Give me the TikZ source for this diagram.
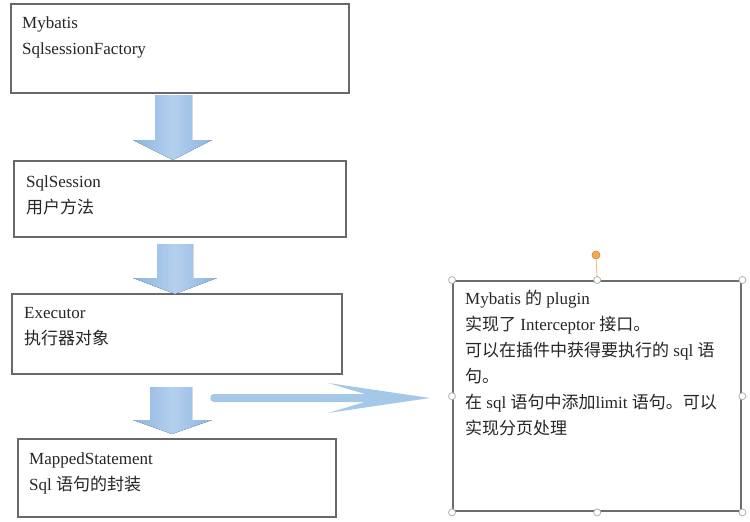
\documentclass[tikz,border=0pt]{standalone}
\usepackage{fontspec}
\setmainfont{Liberation Serif}
\newfontfamily\cjk{Noto Sans CJK SC}
\definecolor{boxgray}{RGB}{105,105,105}
\definecolor{arrowblue}{RGB}{140,180,225}
\definecolor{arrowlight}{RGB}{180,208,238}
\definecolor{sidefill}{RGB}{165,200,233}
\definecolor{rotorange}{RGB}{245,170,80}
\begin{document}
\begin{tikzpicture}[x=1pt,y=-1pt,
    box/.style={draw=boxgray, line width=1.6pt, anchor=north west, inner sep=0pt},
    txt/.style={anchor=north west, inner sep=0pt, align=left, text=black!85,
        font=\fontsize{17}{26}\selectfont},
    handle/.style={circle, draw=gray!60, fill=white, line width=0.8pt,
        inner sep=0pt, minimum size=7pt},
    downarrow/.style={left color=arrowblue, right color=arrowblue, middle color=arrowlight},
    sidearrow/.style={fill=sidefill}]
    \useasboundingbox[fill=white] (0,0) rectangle (750,522);

    % left column
    \node[box, minimum width=338, minimum height=89] (factory) at (10,3) {};
    \node[txt] (factorytext) at (22,10) {\strut Mybatis\\SqlsessionFactory};
    \node[box, minimum width=332, minimum height=76] (session) at (13,160) {};
    \node[txt] (sessiontext) at (26,169) {\strut SqlSession\\{\cjk 用户方法}};
    \node[box, minimum width=330, minimum height=80] (executor) at (11,293) {};
    \node[txt] (executortext) at (24,300) {\strut Executor\\{\cjk 执行器对象}};
    \node[box, minimum width=318, minimum height=78] (mapped) at (17,438) {};
    \node[txt] (mappedtext) at (29,446) {\strut MappedStatement\\Sql {\cjk 语句的封装}};

    % block arrows
    \fill[downarrow] (155,95) -- (192,95) -- (192,140) -- (212,140) -- (173,160)
        -- (133,140) -- (155,140) -- cycle;
    \fill[downarrow] (157,244) -- (193,244) -- (193,278) -- (217,278) -- (175,294)
        -- (133,278) -- (157,278) -- cycle;
    \fill[downarrow] (150,387) -- (192,387) -- (192,420) -- (212,420) -- (172,434)
        -- (133,420) -- (150,420) -- cycle;
    \fill[sidearrow] (214,394) -- (365,394) -- (328,383) -- (430,398) -- (328,413)
        -- (365,402) -- (214,402) .. controls (209,402) and (209,394) .. (214,394) -- cycle;

    % plugin box
    \node[box, line width=2.4pt, draw=gray!85!black, minimum width=288, minimum height=230] (plugin) at (452,280) {};
    \node[txt] (plugintext) at (465,286) {\strut Mybatis {\cjk 的} plugin\\
        {\cjk 实现了} Interceptor {\cjk 接口。}\\
        {\cjk 可以在插件中获得要执行的} sql {\cjk 语}\\
        {\cjk 句。}\\
        {\cjk 在} sql {\cjk 语句中添加}limit {\cjk 语句。可以}\\
        {\cjk 实现分页处理}};

    % selection handles
    \node[circle, fill=rotorange, draw=rotorange!80!black, line width=0.6pt,
        inner sep=0pt, minimum size=8pt] (rotate) at (596,255) {};
    \draw[rotorange!70, line width=1pt] (rotate) -- (plugin.north);
    \foreach \a [count=\i] in {north west, north, north east, east, south east, south, south west, west}
        \node[handle] (handle\i) at (plugin.\a) {};
\end{tikzpicture}
\end{document}
